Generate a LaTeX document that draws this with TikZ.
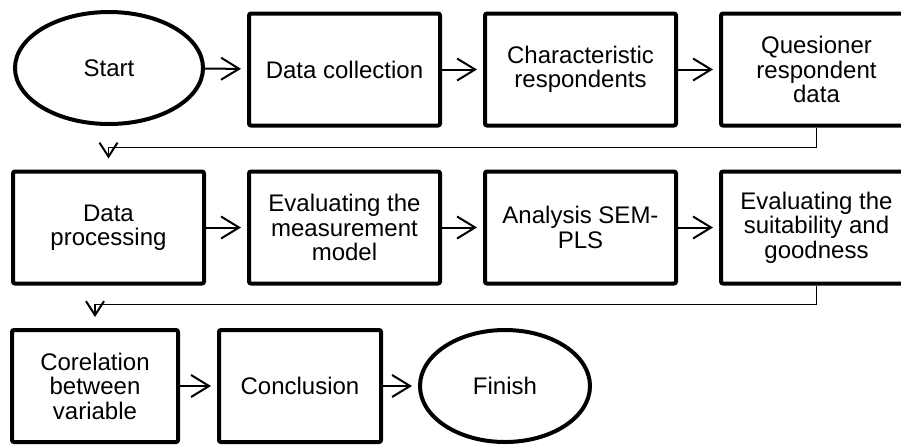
\documentclass[tikz,border=0pt]{standalone}
\usepackage{fontspec}
\setmainfont{Liberation Sans}
\usetikzlibrary{arrows.meta,shapes.geometric}
\begin{document}
\begin{tikzpicture}[x=0.5pt,y=-0.5pt,
  txt/.style={align=center, font=\fontsize{12}{12.25}\selectfont},
  box/.style={txt, draw, rectangle, line width=2pt, rounded corners=1pt, inner sep=0pt,
    minimum width=95.5pt, minimum height=56pt},
  term/.style={txt, draw, ellipse, line width=2pt, inner sep=0pt,
    minimum width=94pt, minimum height=56pt},
  flow/.style={line width=1pt, -{Straight Barb[length=9pt,width=11pt,line width=1pt]}, shorten >=3pt},
  back/.style={line width=0.7pt, -{Straight Barb[length=7pt,width=9pt,line width=1pt]}, shorten >=5.5pt}]
\useasboundingbox (0,0) rectangle (901,446);
\clip (0,0) rectangle (901,446);
% row 1
\node[term] (start) at (109,68) {Start};
\node[box] (dc) at (344.5,69.5) {Data collection};
\node[box] (cr) at (580.5,69.5) {Characteristic\\respondents};
\node[box] (qr) at (816.5,69.5) {Quesioner\\respondent\\data};
% row 2
\node[box] (dp) at (108.5,227.5) {Data\\processing};
\node[box] (em) at (344.5,227.5) {Evaluating the\\measurement\\model};
\node[box] (as) at (580.5,227.5) {Analysis SEM-\\PLS};
\node[box] (es) at (816.5,227.5) {Evaluating the\\suitability and\\goodness};
% row 3
\node[box, minimum width=83pt] (cb) at (95,386) {Corelation\\between\\variable};
\node[box, minimum width=81pt] (cn) at (300,386) {Conclusion};
\node[term, minimum width=85pt] (fin) at (505,386) {Finish};
% connectors
\draw[flow] (start) -- (dc);
\draw[flow] (dc) -- (cr);
\draw[flow] (cr) -- (qr);
\draw[back] (qr.south) -- ++(0,20) -| (dp.north);
\draw[flow] (dp) -- (em);
\draw[flow] (em) -- (as);
\draw[flow] (as) -- (es);
\draw[back] (es.south) -- ++(0,19) -| (cb.north);
\draw[flow] (cb) -- (cn);
\draw[flow] (cn) -- (fin);
\end{tikzpicture}
\end{document}
